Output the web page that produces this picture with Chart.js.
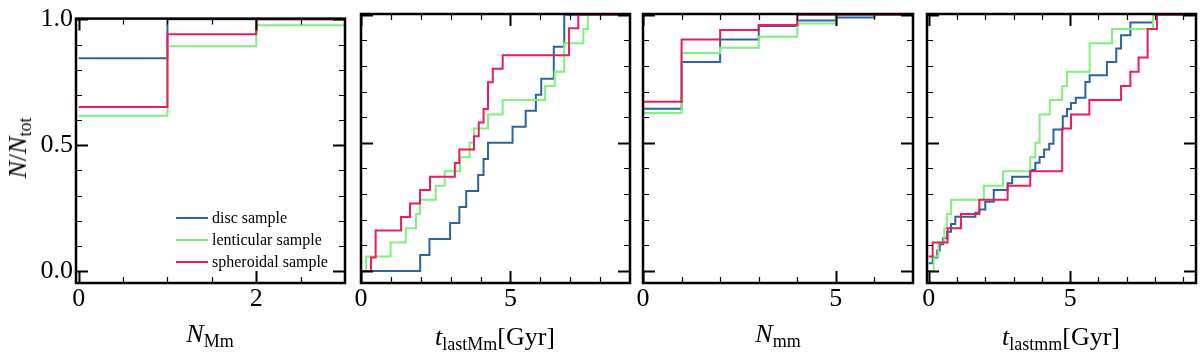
<!DOCTYPE html>
<html>
<head>
<meta charset="utf-8">
<script src="https://cdn.jsdelivr.net/npm/chart.js@4.4.0/dist/chart.umd.min.js"></script>
<style>
    html, body { margin: 0; padding: 0; background: #fff; }
    #wrap { position: relative; width: 1200px; height: 356px; overflow: hidden; font-family: "Liberation Serif", serif; color: #000; }
    #wrap canvas { position: absolute; left: 0; top: 0; }
    .xt { position: absolute; transform: translateX(-50%); font-size: 26px; line-height: 26px; white-space: nowrap; }
    .yt { position: absolute; left: 18px; top: 148px; transform: translate(-50%, -50%) rotate(-90deg); font-size: 26px; line-height: 26px; white-space: nowrap; }
    sub { font-size: 18px; line-height: 0; vertical-align: -5px; font-style: normal; }
    .leg { position: absolute; left: 176px; font-size: 16px; line-height: 22px; height: 22px; white-space: nowrap; }
    .leg span { display: inline-block; width: 32px; height: 0; border-top: 2px solid; vertical-align: middle; margin-right: 4px; position: relative; top: -1px; }
</style>
</head>
<body>
<div id="wrap">
    <canvas id="c1" width="1200" height="356"></canvas>
    <canvas id="c2" width="1200" height="356"></canvas>
    <canvas id="c3" width="1200" height="356"></canvas>
    <canvas id="c4" width="1200" height="356"></canvas>

    <div class="yt"><i>N</i>/<i>N</i><sub>tot</sub></div>
    <div class="xt" style="left:210px; top:321px"><i>N</i><sub>Mm</sub></div>
    <div class="xt" style="left:495px; top:324px"><i>t</i><sub>lastMm</sub>[Gyr]</div>
    <div class="xt" style="left:778px; top:321px"><i>N</i><sub>mm</sub></div>
    <div class="xt" style="left:1061px; top:324px"><i>t</i><sub>lastmm</sub>[Gyr]</div>

    <div class="leg" style="top:207px"><span style="border-color:#2b63a6"></span>disc sample</div>
    <div class="leg" style="top:229px"><span style="border-color:#80f080"></span>lenticular sample</div>
    <div class="leg" style="top:251px"><span style="border-color:#ef1b5d"></span>spheroidal sample</div>
</div>
<script>
// colours
const discColor = '#2b63a6';
const lentColor = '#80f080';
const spherColor = '#ef1b5d';

// y axis (shared)
const yTicks = [0, 0.1, 0.2, 0.3, 0.4, 0.5, 0.6, 0.7, 0.8, 0.9, 1.0];
const yMajor = [0, 0.5, 1.0];

// panel 1: N_Mm
const nMmTicks = [0, 0.5, 1, 1.5, 2, 2.5];
const nMmMajor = [0, 2];
const nMmDiscX = [0, 1, 2, 3];
const nMmDiscY = [0.846, 1.0, 1.0, 1.0];
const nMmLentX = [0, 1, 2, 3];
const nMmLentY = [0.617, 0.893, 0.977, 0.977];
const nMmSpherX = [0, 1, 2, 3];
const nMmSpherY = [0.652, 0.941, 1.0, 1.0];

// panel 2: t_lastMm [Gyr]
const tMmTicks = [0, 1, 2, 3, 4, 5, 6, 7, 8];
const tMmMajor = [0, 5];
const tMmDiscX = [0, 1.98, 2.29, 2.98, 3.29, 3.52, 3.92, 4.10, 4.25, 5.07, 5.51, 5.85, 6.03, 6.45, 6.80, 9];
const tMmDiscY = [0, 0.0625, 0.125, 0.1875, 0.25, 0.3125, 0.375, 0.4375, 0.5, 0.5625, 0.625, 0.6875, 0.75, 0.875, 1.0, 1.0];
const tMmLentX = [0, 0.167, 0.99, 1.5, 1.84, 1.975, 2.5, 2.8, 3.31, 3.63, 3.78, 4.25, 4.74, 6.16, 6.48, 6.8, 7.44, 7.59, 9];
const tMmLentY = [0, 0.056, 0.111, 0.167, 0.222, 0.278, 0.333, 0.389, 0.444, 0.5, 0.556, 0.611, 0.667, 0.722, 0.778, 0.889, 0.944, 1.0, 1.0];
const tMmSpherX = [0, 0.335, 0.49, 1.34, 1.64, 1.975, 2.31, 3.14, 3.29, 3.78, 3.94, 4.10, 4.25, 4.41, 4.74, 6.96, 7.27, 9];
const tMmSpherY = [0, 0.053, 0.158, 0.211, 0.263, 0.316, 0.368, 0.421, 0.474, 0.526, 0.579, 0.632, 0.737, 0.789, 0.842, 0.947, 1.0, 1.0];

// panel 3: N_mm
const nmmTicks = [0, 1, 2, 3, 4, 5, 6];
const nmmMajor = [0, 5];
const nmmDiscX = [0, 1, 2, 3, 4, 5, 6, 7];
const nmmDiscY = [0.633, 0.816, 0.903, 0.956, 0.978, 0.989, 1.0, 1.0];
const nmmLentX = [0, 1, 2, 3, 4, 5, 6, 7];
const nmmLentY = [0.617, 0.851, 0.871, 0.914, 0.966, 1.0, 1.0, 1.0];
const nmmSpherX = [0, 1, 2, 3, 4, 5, 6, 7];
const nmmSpherY = [0.66, 0.903, 0.941, 0.96, 1.0, 1.0, 1.0, 1.0];

// panel 4: t_lastmm [Gyr]
const tmmTicks = [0, 1, 2, 3, 4, 5, 6, 7, 8, 9];
const tmmMajor = [0, 5];
const tmmDiscX = [0, 0.14, 0.3, 0.39, 0.51, 0.65, 0.79, 0.94, 1.65, 1.79, 2.0, 2.3, 2.79, 2.95, 3.59, 3.77, 3.92, 4.08, 4.26, 4.41, 4.74, 4.89, 5.03, 5.2, 5.54, 5.69, 6.3, 6.63, 6.8, 7.13, 7.93, 9.45];
const tmmDiscY = [0.03, 0.053, 0.08, 0.104, 0.128, 0.153, 0.183, 0.212, 0.227, 0.24, 0.27, 0.316, 0.342, 0.368, 0.394, 0.422, 0.445, 0.474, 0.497, 0.552, 0.604, 0.632, 0.656, 0.676, 0.738, 0.764, 0.816, 0.868, 0.92, 0.97, 1.0, 1.0];
const tmmLentX = [0, 0.18, 0.34, 0.55, 0.65, 0.79, 1.95, 2.63, 3.59, 3.77, 3.92, 4.28, 4.72, 4.89, 5.69, 6.48, 7.93, 9.45];
const tmmLentY = [0, 0.056, 0.111, 0.167, 0.222, 0.278, 0.333, 0.389, 0.444, 0.5, 0.611, 0.667, 0.722, 0.778, 0.889, 0.944, 1.0, 1.0];
const tmmSpherX = [0, 0.14, 0.67, 1.14, 1.79, 2.79, 3.59, 4.72, 5.03, 5.68, 6.8, 7.13, 7.42, 7.74, 8.07, 9.45];
const tmmSpherY = [0.056, 0.111, 0.167, 0.222, 0.278, 0.333, 0.389, 0.556, 0.611, 0.667, 0.722, 0.778, 0.833, 0.944, 1.0, 1.0];

function isMajor(v, majors) {
    return majors.some(m => Math.abs(m - v) < 1e-6);
}

function toPoints(xs, ys) {
    return xs.map((x, i) => ({x: x, y: ys[i]}));
}

// inward ticks on all four sides + box frame
const frameTicks = {
    id: 'frameTicks',
    afterDatasetsDraw(chart) {
        const ctx = chart.ctx;
        const a = chart.chartArea;
        const xs = chart.scales.x;
        const ys = chart.scales.y;
        const xMaj = chart.options.plugins.frameTicks.xMajor;
        ctx.save();
        ctx.strokeStyle = '#000';
        ctx.lineCap = 'butt';
        for (const t of xs.ticks) {
            const px = Math.round(xs.getPixelForValue(t.value)) + 0.5;
            const major = isMajor(t.value, xMaj);
            const len = major ? 12 : 6;
            ctx.lineWidth = major ? 2 : 1.2;
            ctx.beginPath();
            ctx.moveTo(px, a.bottom); ctx.lineTo(px, a.bottom - len);
            ctx.moveTo(px, a.top); ctx.lineTo(px, a.top + len);
            ctx.stroke();
        }
        for (const t of ys.ticks) {
            const py = Math.round(ys.getPixelForValue(t.value)) + 0.5;
            const major = isMajor(t.value, yMajor);
            const len = major ? 12 : 6;
            ctx.lineWidth = major ? 2 : 1.2;
            ctx.beginPath();
            ctx.moveTo(a.left, py); ctx.lineTo(a.left + len, py);
            ctx.moveTo(a.right, py); ctx.lineTo(a.right - len, py);
            ctx.stroke();
        }
        ctx.lineWidth = 2.5;
        ctx.strokeRect(a.left, a.top, a.right - a.left, a.bottom - a.top);
        ctx.restore();
    }
};

function makePanel(id, p) {
    const ctx = document.getElementById(id).getContext('2d');
    return new Chart(ctx, {
        type: 'line',
        data: {
            datasets: [
                { label: 'disc sample', data: toPoints(p.discX, p.discY), borderColor: discColor, order: 2 },
                { label: 'lenticular sample', data: toPoints(p.lentX, p.lentY), borderColor: lentColor, order: 1 },
                { label: 'spheroidal sample', data: toPoints(p.spherX, p.spherY), borderColor: spherColor, order: 0 }
            ]
        },
        options: {
            responsive: false,
            devicePixelRatio: 1,
            animation: false,
            layout: {
                autoPadding: false,
                padding: { left: p.showY ? 0 : p.left, right: 1200 - p.right, top: 14, bottom: 0 }
            },
            elements: {
                line: { borderWidth: 2, stepped: 'before', fill: false, borderJoinStyle: 'miter' },
                point: { radius: 0, hoverRadius: 0 }
            },
            plugins: {
                legend: { display: false },
                tooltip: { enabled: false },
                frameTicks: { xMajor: p.xMajor }
            },
            scales: {
                x: {
                    type: 'linear',
                    min: p.xMin,
                    max: p.xMax,
                    grid: { display: false, drawTicks: false },
                    border: { display: false },
                    afterBuildTicks: s => { s.ticks = p.xTicks.map(v => ({value: v})); },
                    afterFit: s => { s.height = 73; },
                    ticks: {
                        autoSkip: false,
                        maxRotation: 0,
                        padding: 1,
                        color: '#000',
                        font: { family: 'Liberation Serif', size: 26 },
                        callback: v => isMajor(v, p.xMajor) ? String(v) : ''
                    }
                },
                y: {
                    type: 'linear',
                    min: -0.047,
                    max: 1.003,
                    grid: { display: false, drawTicks: false },
                    border: { display: false },
                    afterBuildTicks: s => { s.ticks = yTicks.map(v => ({value: v})); },
                    afterFit: s => { s.width = p.showY ? p.left : 0; },
                    ticks: {
                        display: p.showY,
                        autoSkip: false,
                        padding: 3,
                        color: '#000',
                        font: { family: 'Liberation Serif', size: 26 },
                        callback: v => isMajor(v, yMajor) ? v.toFixed(1) : ''
                    }
                }
            }
        },
        plugins: [frameTicks]
    });
}

makePanel('c1', {
    left: 76, right: 345, showY: true, xMin: -0.03, xMax: 3,
    xTicks: nMmTicks, xMajor: nMmMajor,
    discX: nMmDiscX, discY: nMmDiscY, lentX: nMmLentX, lentY: nMmLentY, spherX: nMmSpherX, spherY: nMmSpherY
});
makePanel('c2', {
    left: 361, right: 630, showY: false, xMin: 0, xMax: 9,
    xTicks: tMmTicks, xMajor: tMmMajor,
    discX: tMmDiscX, discY: tMmDiscY, lentX: tMmLentX, lentY: tMmLentY, spherX: tMmSpherX, spherY: tMmSpherY
});
makePanel('c3', {
    left: 643, right: 913, showY: false, xMin: 0, xMax: 7,
    xTicks: nmmTicks, xMajor: nmmMajor,
    discX: nmmDiscX, discY: nmmDiscY, lentX: nmmLentX, lentY: nmmLentY, spherX: nmmSpherX, spherY: nmmSpherY
});
makePanel('c4', {
    left: 927, right: 1196, showY: false, xMin: -0.06, xMax: 9.45,
    xTicks: tmmTicks, xMajor: tmmMajor,
    discX: tmmDiscX, discY: tmmDiscY, lentX: tmmLentX, lentY: tmmLentY, spherX: tmmSpherX, spherY: tmmSpherY
});
</script>
</body>
</html>
